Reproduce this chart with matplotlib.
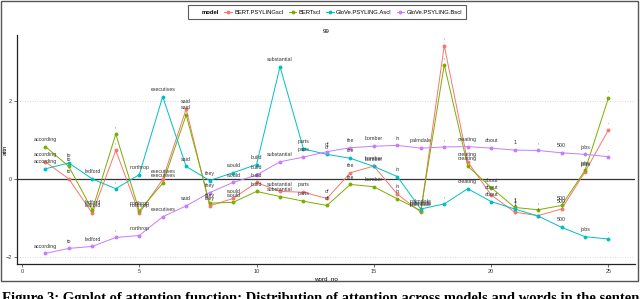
import matplotlib.pyplot as plt
from matplotlib.lines import Line2D
from matplotlib.patches import Rectangle
import numpy as np

plt.rcParams["font.family"] = ["Liberation Sans", "DejaVu Sans"]

# Data
words = [
    "according", "to", "ledford", ",", "northrop", "executives", "said",
    "they", "would", "build", "substantial", "parts", "of", "the",
    "bomber", "in", "palmdale", ",", "creating", "about", "1", ",",
    "500", "jobs", ".",
]
word_no = np.arange(1, len(words) + 1)

models = ["BERT.PSYLINGscl", "BERTscl", "GloVe.PSYLING.Ascl", "GloVe.PSYLING.Bscl"]
colors = ["#F8766D", "#7CAE00", "#00BFC4", "#C77CFF"]

bert_psyling = [0.44, 0.0, -0.88, 0.73, -0.88, -0.01, 1.79, -0.69, -0.50,
                -0.09, -0.32, -0.34, -0.50, 0.16, 0.33, -0.39, -0.85, 3.42,
                0.44, -0.41, -0.85, -0.94, -0.77, 0.18, 1.26]
bert = [0.83, 0.32, -0.80, 1.15, -0.82, -0.11, 1.64, -0.62, -0.60, -0.32,
        -0.45, -0.57, -0.68, -0.14, -0.20, -0.51, -0.81, 2.93, 0.33, -0.22,
        -0.73, -0.79, -0.68, 0.22, 2.08]
glove_a = [0.26, 0.41, 0.0, -0.25, 0.11, 2.11, 0.32, -0.04, 0.16, 0.37,
           2.88, 0.77, 0.63, 0.53, 0.32, 0.06, -0.77, -0.64, -0.25, -0.58,
           -0.77, -0.95, -1.24, -1.48, -1.54]
glove_b = [-1.91, -1.78, -1.73, -1.50, -1.45, -0.97, -0.69, -0.35, -0.09,
           0.10, 0.44, 0.56, 0.70, 0.80, 0.84, 0.86, 0.79, 0.82, 0.83, 0.79,
           0.74, 0.73, 0.67, 0.63, 0.57]
series = [bert_psyling, bert, glove_a, glove_b]

caption = ("Figure 3: Ggplot of attention function: Distribution of attention "
           "across models and words in the sentence")

W, H = 640, 299
fig = plt.figure(figsize=(W / 100, H / 100), dpi=100)
ax = fig.add_axes([17 / W, 1 - 264 / H, (635 - 17) / W, (264 - 35) / H])

# Dotted horizontal grid and zero line
for yv in (-2, 2):
    ax.axhline(yv, color="#cccccc", lw=0.6, ls=(0, (1, 2)), zorder=0)
ax.axhline(0, color="#333333", lw=0.9, zorder=1)

for name, vals, col in zip(models, series, colors):
    ax.plot(word_no, vals, color=col, lw=0.7, zorder=2)
    ax.plot(word_no, vals, ls="none", marker="o", ms=1.8, color=col, zorder=3)

for vals in series:
    for x, y, w in zip(word_no, vals, words):
        ax.annotate(w, (x, y), xytext=(0, 3.5), textcoords="offset points",
                    ha="center", va="bottom", fontsize=3.8, color="#333333",
                    zorder=4)

ax.set_xlim(-0.21, 26.13)
ax.set_ylim(-2.18, 3.69)
ax.set_xticks([0, 5, 10, 15, 20, 25])
ax.set_yticks([-2, 0, 2])
ax.tick_params(labelsize=4, length=2, width=0.5, pad=1.5, colors="#333333")
for s in ("top", "right"):
    ax.spines[s].set_visible(False)
for s in ("left", "bottom"):
    ax.spines[s].set_linewidth(0.9)
    ax.spines[s].set_color("#222222")
ax.set_xlabel("word_no", fontsize=4.5, labelpad=2)
ax.set_ylabel("attn", fontsize=4.5)
ax.yaxis.set_label_coords(-9 / 618, 0.5)
ax.set_title("99", fontsize=4.5, pad=1.5)

# Legend along the top with the title on the left
handles = [Line2D([], [], alpha=0)]
handles += [Line2D([], [], color=c, lw=0.7, marker="o", ms=1.8) for c in colors]
leg = fig.legend(handles, ["model"] + models, loc="center",
                 bbox_to_anchor=(327 / W, 1 - 12 / H), ncol=5, fontsize=4.2,
                 frameon=True, fancybox=False, edgecolor="#333333",
                 handlelength=1.3, handletextpad=0.4, columnspacing=0.9,
                 borderpad=0.7)
leg.get_frame().set_linewidth(0.8)
leg.get_texts()[0].set_fontweight("bold")

# Outer border and caption from the paper page
fig.patches.append(Rectangle((1 / W, 1 - 281 / H), 637 / W, 280 / H,
                             transform=fig.transFigure, fill=False,
                             edgecolor="#555555", lw=1))
fig.text(2 / W, 1 - 302 / H, caption, fontsize=10.5, fontweight="bold",
         family="Liberation Serif", va="baseline", ha="left")

fig.savefig("out.png", dpi=100)
